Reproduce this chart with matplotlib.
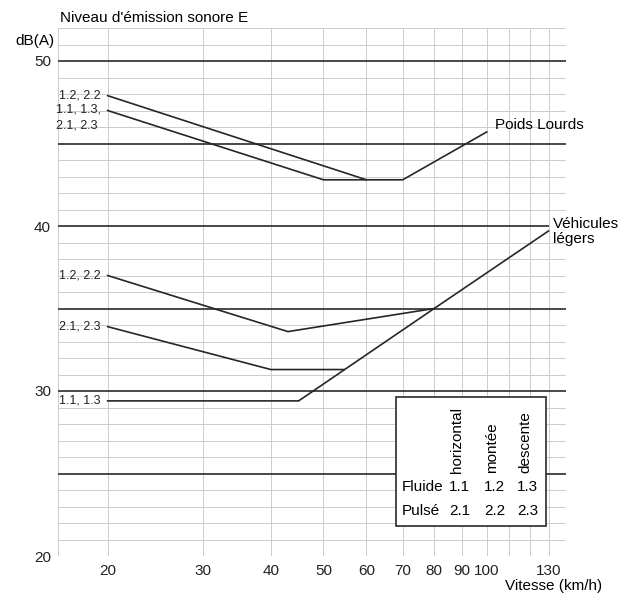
import matplotlib as mpl
mpl.use("Agg")
import matplotlib.pyplot as plt
from matplotlib.patches import Rectangle
import numpy as np

plt.rcParams["font.family"] = ["Liberation Sans", "DejaVu Sans"]

# Poids Lourds (heavy vehicles)
pl_base_v = [20, 50, 70, 100]
pl_base_db = [47.0, 42.8, 42.8, 45.7]
pl_up_v = [20, 60]
pl_up_db = [47.9, 42.8]

# Vehicules legers (light vehicles)
vl_base_v = [20, 45, 80, 130]
vl_base_db = [29.4, 29.4, 35.0, 39.7]
vl_up_v = [20, 43, 80]
vl_up_db = [37.0, 33.6, 35.0]
vl_pulse_v = [20, 40, 54.5]
vl_pulse_db = [33.9, 31.3, 31.3]

x_ticks = [20, 30, 40, 50, 60, 70, 80, 90, 100, 130]
y_ticks = [20, 30, 40, 50]
grid_v = list(range(20, 150, 10))
major_db = [25, 30, 35, 40, 45, 50]

table_cols = ["horizontal", "montée", "descente"]
table_rows = ["Fluide", "Pulsé"]
table_codes = [["1.1", "1.2", "1.3"], ["2.1", "2.2", "2.3"]]

xmin, xmax = 16.2, 140
line_col = "#262626"
grid_col = "#cccccc"

fig = plt.figure(figsize=(6.36, 5.93), dpi=100)
ax = fig.add_axes([58 / 636, 37 / 593, 508 / 636, 528 / 593])
ax.set_xscale("log")
ax.set_xlim(xmin, xmax)
ax.set_ylim(20, 52)
for s in ax.spines.values():
    s.set_visible(False)

# grid
for v in grid_v + [xmin]:
    ax.axvline(v, color=grid_col, lw=0.7, zorder=1)
for d in range(20, 53):
    if d not in major_db:
        ax.axhline(d, color=grid_col, lw=0.7, zorder=1)
for d in major_db:
    ax.hlines(d, xmin, 130 if d == 40 else xmax, color="#3a3a3a", lw=1.3, zorder=2)

ax.set_xticks(x_ticks)
ax.set_xticklabels([str(t) for t in x_ticks])
ax.xaxis.set_minor_locator(mpl.ticker.NullLocator())
ax.set_yticks(y_ticks)
ax.tick_params(length=0, labelsize=11, colors="#222222")
ax.tick_params(axis="x", pad=6)
ax.tick_params(axis="y", pad=5)

# curves
for v, d in [(pl_base_v, pl_base_db), (pl_up_v, pl_up_db),
             (vl_base_v, vl_base_db), (vl_up_v, vl_up_db), (vl_pulse_v, vl_pulse_db)]:
    ax.plot(v, d, color=line_col, lw=1.2, zorder=3)

lab = dict(textcoords="offset points", ha="right", fontsize=9, color="#222222")
ax.annotate("1.2, 2.2", (pl_up_v[0], pl_up_db[0]), xytext=(-5, 0), va="center", **lab)
ax.annotate("1.1, 1.3,\n2.1, 2.3", (pl_base_v[0], pl_base_db[0]), xytext=(-5, 5),
            va="top", linespacing=1.45, multialignment="left", **lab)
ax.annotate("1.2, 2.2", (vl_up_v[0], vl_up_db[0]), xytext=(-5, 0), va="center", **lab)
ax.annotate("2.1, 2.3", (vl_pulse_v[0], vl_pulse_db[0]), xytext=(-5, 0), va="center", **lab)
ax.annotate("1.1, 1.3", (vl_base_v[0], vl_base_db[0]), xytext=(-5, 0), va="center", **lab)

ax.annotate("Poids Lourds", (pl_base_v[-1], pl_base_db[-1]), xytext=(6, 0),
            textcoords="offset points", ha="left", va="bottom", fontsize=11)
ax.annotate("Véhicules\nlégers", (vl_base_v[-1], 40), xytext=(3, -4),
            textcoords="offset points", ha="left", va="center", fontsize=11,
            linespacing=1.05)

# code table
ax.add_patch(Rectangle((0.665, 0.057), 0.296, 0.244, transform=ax.transAxes,
                       facecolor="white", edgecolor="#2a2a2a", lw=1.2, zorder=5))
col_x = [0.786, 0.855, 0.920]
row_y = [0.131, 0.085]
for cx, name in zip(col_x, table_cols):
    ax.text(cx, 0.157, name, transform=ax.transAxes, rotation=90,
            ha="center", va="bottom", fontsize=11, zorder=6)
for ry, rname, codes in zip(row_y, table_rows, table_codes):
    ax.text(0.676, ry, rname, transform=ax.transAxes, ha="left", va="center",
            fontsize=11, zorder=6)
    for cx, c in zip(col_x, codes):
        ax.text(cx + 0.004, ry, c, transform=ax.transAxes, ha="center", va="center",
                fontsize=11, zorder=6)

fig.text(60 / 636, 1 - 18 / 593, "Niveau d'émission sonore E", ha="left", va="center",
         fontsize=11)
fig.text(55 / 636, 1 - 41 / 593, "dB(A)", ha="right", va="center", fontsize=11)
fig.text(602 / 636, 1 - 586 / 593, "Vitesse (km/h)", ha="right", va="center",
         fontsize=11)

fig.savefig("out.png", dpi=100, facecolor="white")
